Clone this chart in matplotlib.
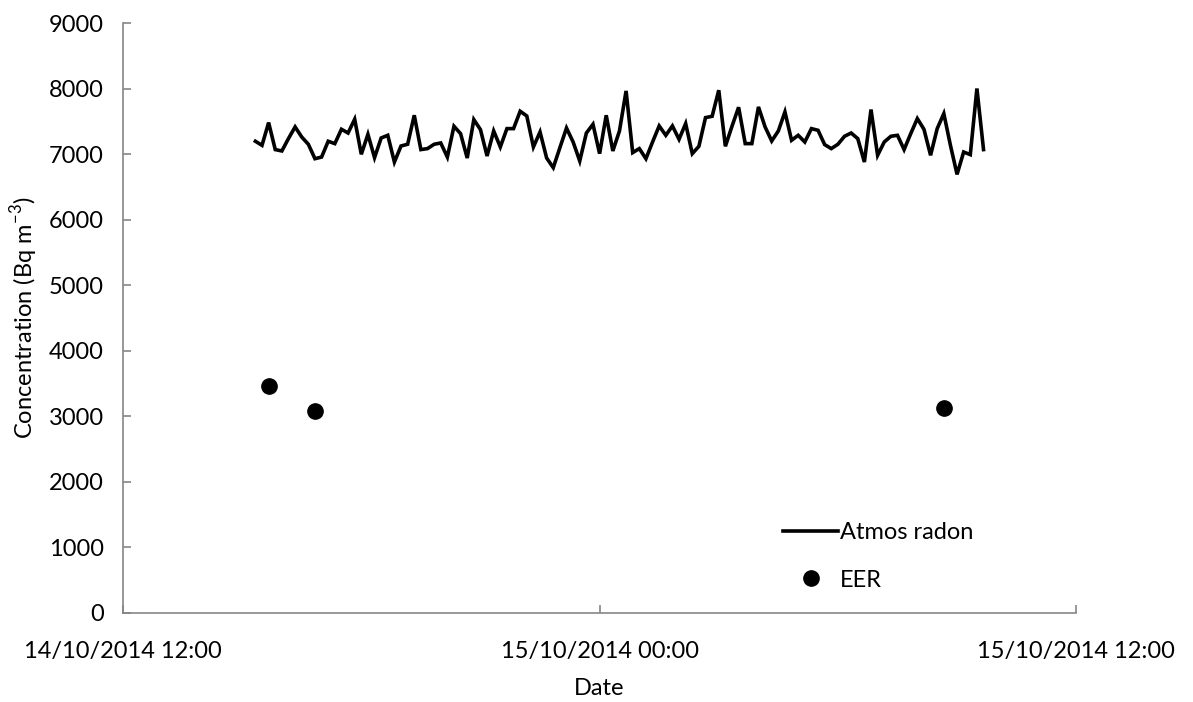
import datetime as dt
import matplotlib
matplotlib.use("Agg")
import matplotlib.pyplot as plt
import matplotlib.dates as mdates

# Atmospheric radon, 10-minute readings starting 14/10/2014 15:20
radon_start = dt.datetime(2014, 10, 14, 15, 20)
radon_step_min = 10
radon_values = [
    7198, 7136, 7483, 7071, 7050, 7240, 7417, 7263, 7152, 6932,
    6957, 7198, 7162, 7381, 7324, 7534, 6999, 7304, 6948, 7248,
    7289, 6881, 7126, 7152, 7595, 7071, 7086, 7152, 7172, 6957,
    7427, 7314, 6942, 7529, 7376, 6973, 7355, 7111, 7391, 7391,
    7656, 7584, 7111, 7340, 6942, 6795, 7100, 7400, 7187, 6897,
    7324, 7457, 7009, 7595, 7050, 7355, 7966, 7025, 7086, 6932,
    7187, 7432, 7289, 7432, 7228, 7468, 7009, 7121, 7559, 7579,
    7977, 7121, 7427, 7717, 7162, 7162, 7722, 7417, 7202, 7355,
    7646, 7213, 7289, 7187, 7391, 7365, 7147, 7086, 7152, 7274,
    7324, 7238, 6881, 7682, 6984, 7187, 7274, 7289, 7071, 7314,
    7544, 7381, 6984, 7391, 7620, 7136, 6693, 7034, 6994, 8003,
    7071,
]
radon_times = [radon_start + dt.timedelta(minutes=radon_step_min * i)
               for i in range(len(radon_values))]

# Equilibrium equivalent radon samples
eer_times = [
    dt.datetime(2014, 10, 14, 15, 40),
    dt.datetime(2014, 10, 14, 16, 50),
    dt.datetime(2014, 10, 15, 8, 40),
]
eer_values = [3458, 3087, 3122]

x_ticks = [
    dt.datetime(2014, 10, 14, 12, 0),
    dt.datetime(2014, 10, 15, 0, 0),
    dt.datetime(2014, 10, 15, 12, 0),
]
y_ticks = [0, 1000, 2000, 3000, 4000, 5000, 6000, 7000, 8000, 9000]

plt.rcParams["font.family"] = ["Lato", "DejaVu Sans"]
fs = 17
axis_grey = "#868686"

fig = plt.figure(figsize=(11.93, 7.02), dpi=100)
ax = fig.add_axes([0.1031, 0.1268, 0.799, 0.8402])

ax.plot(radon_times, radon_values, color="black", lw=2.6,
        solid_joinstyle="miter", label="Atmos radon")
ax.plot(eer_times, eer_values, linestyle="none", marker="o",
        markersize=11, color="black", label="EER")

ax.set_xlim(x_ticks[0], x_ticks[-1])
ax.set_ylim(0, 9000)
ax.set_xticks(x_ticks)
ax.xaxis.set_major_formatter(mdates.DateFormatter("%d/%m/%Y %H:%M"))
ax.set_yticks(y_ticks)

for side in ("top", "right"):
    ax.spines[side].set_visible(False)
for side in ("left", "bottom"):
    ax.spines[side].set_color(axis_grey)
    ax.spines[side].set_linewidth(1.2)

ax.tick_params(axis="both", direction="in", color=axis_grey, width=1.2,
               length=6, labelsize=fs, labelcolor="black")
ax.tick_params(axis="x", pad=20)
ax.tick_params(axis="y", pad=14)

ax.set_xlabel("Date", fontsize=fs, labelpad=12)
ax.set_ylabel("Concentration (Bq m$^{\\mathregular{-3}}$)", fontsize=fs, labelpad=6)

ax.legend(loc="upper left", bbox_to_anchor=(0.683, 0.170), frameon=False,
          fontsize=fs, handlelength=2.3, handletextpad=0.1,
          labelspacing=1.12, borderaxespad=0)

fig.savefig("out.png", dpi=100)
